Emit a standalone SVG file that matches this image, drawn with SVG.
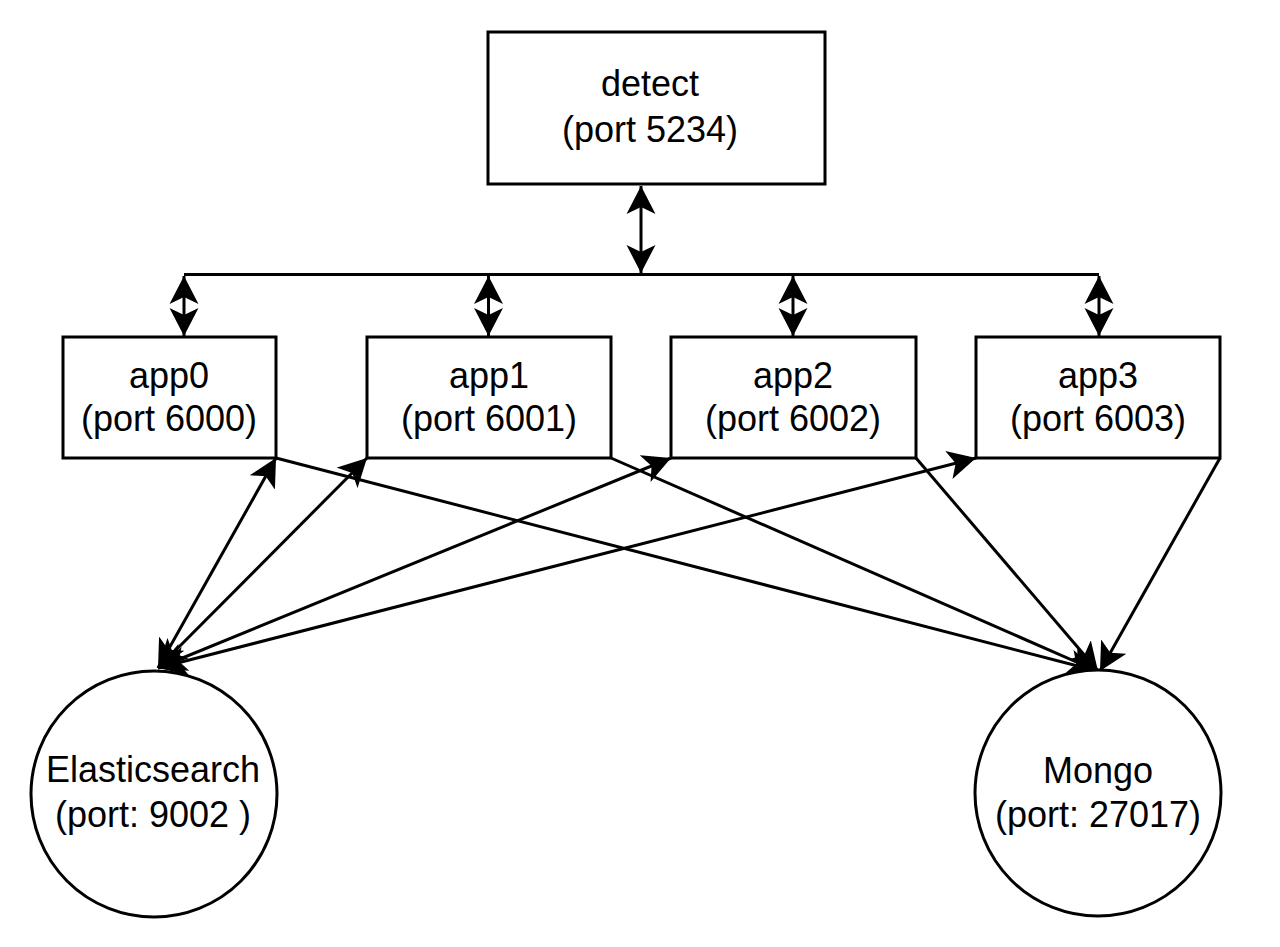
<svg xmlns="http://www.w3.org/2000/svg" width="1280" height="947" viewBox="0 0 1280 947">
<style>
.box{fill:#fff;stroke:#000;stroke-width:3}
.t{font-family:"Liberation Sans",Arial,sans-serif;font-size:36px;fill:#000;text-anchor:middle}
.c{fill:none;stroke:#000;stroke-width:3}
.a1{marker-end:url(#ar)}
.a2{marker-start:url(#ar);marker-end:url(#ar)}
</style>
<defs>
<marker id="ar" markerUnits="userSpaceOnUse" markerWidth="30" markerHeight="30" refX="28" refY="15" orient="auto-start-reverse" viewBox="0 0 30 30">
<path d="M28,15 L0,0.5 L7,15 L0,29.5 Z" fill="#000"/>
</marker>
</defs>
<rect width="1280" height="947" fill="#fff"/>
<g id="connectors">
<line class="c a2" x1="641" y1="186" x2="641" y2="273"/>
<line class="c" x1="184" y1="274.5" x2="1099" y2="274.5"/>
<line class="c a2" x1="184" y1="276" x2="184" y2="336"/>
<line class="c a2" x1="488.5" y1="276" x2="488.5" y2="336"/>
<line class="c a2" x1="793" y1="276" x2="793" y2="336"/>
<line class="c a2" x1="1099" y1="276" x2="1099" y2="336"/>
<line class="c a1" x1="276" y1="458" x2="1097" y2="671"/>
<line class="c a1" x1="611" y1="458" x2="1097" y2="671"/>
<line class="c a1" x1="916" y1="458" x2="1098" y2="671"/>
<line class="c a1" x1="1220" y1="458" x2="1100" y2="671"/>
<line class="c a2" x1="158" y1="668" x2="276" y2="458"/>
<line class="c a2" x1="158" y1="668" x2="367" y2="458"/>
<line class="c a2" x1="158" y1="668" x2="671" y2="458"/>
<line class="c a2" x1="158" y1="668" x2="976" y2="458"/>
</g>
<g id="detect">
<rect class="box" x="488" y="32" width="337" height="152"/>
<text class="t" x="650" y="96">detect</text>
<text class="t" x="650" y="142">(port 5234)</text>
</g>
<g id="app0">
<rect class="box" x="63" y="337" width="213" height="121"/>
<text class="t" x="169" y="388">app0</text>
<text class="t" x="169" y="431">(port 6000)</text>
</g>
<g id="app1">
<rect class="box" x="367" y="337" width="244" height="121"/>
<text class="t" x="489" y="388">app1</text>
<text class="t" x="489" y="431">(port 6001)</text>
</g>
<g id="app2">
<rect class="box" x="671" y="337" width="245" height="121"/>
<text class="t" x="793" y="388">app2</text>
<text class="t" x="793" y="431">(port 6002)</text>
</g>
<g id="app3">
<rect class="box" x="976" y="337" width="244" height="121"/>
<text class="t" x="1098" y="388">app3</text>
<text class="t" x="1098" y="431">(port 6003)</text>
</g>
<g id="elasticsearch">
<circle class="box" cx="154" cy="794" r="123" stroke-width="2.5"/>
<text class="t" x="153" y="782">Elasticsearch</text>
<text class="t" x="153" y="827">(port: 9002 )</text>
</g>
<g id="mongo">
<circle class="box" cx="1098" cy="793" r="123" stroke-width="2.5"/>
<text class="t" x="1098" y="783">Mongo</text>
<text class="t" x="1098" y="827">(port: 27017)</text>
</g>
</svg>
